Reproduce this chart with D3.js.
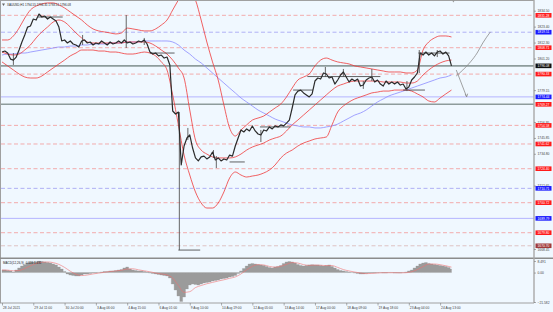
<!DOCTYPE html>
<html>
<head>
<meta charset="utf-8">
<script src="https://cdn.jsdelivr.net/npm/d3@7"></script>
<style>
  body { margin: 0; background: #f0f8ff; }
  svg { display: block; font-family: "Liberation Sans", Arial, sans-serif; }
</style>
</head>
<body>
<div id="chart"></div>
<script>
// ---- data (XAUUSD H1) ----
const closeStep = 3; // one close sample every 3 bars
const closes = [
  1805.7,1806.4,1805.0,1800.8,1800.1,1802.2,1807.1,1812.7,1817.6,1823.1,
  1823.8,1828.7,1828.0,1832.2,1830.1,1830.8,1828.7,1830.1,1828.7,1827.3,
  1823.1,1813.4,1814.1,1812.0,1813.4,1811.3,1810.6,1809.2,1813.4,1814.1,
  1812.0,1812.7,1810.6,1812.0,1811.3,1813.4,1812.0,1810.6,1812.7,1811.3,
  1812.0,1813.4,1812.0,1814.1,1812.0,1812.7,1811.3,1812.0,1813.4,1812.7,
  1814.1,1811.3,1805.7,1804.3,1805.0,1803.0,1803.6,1801.5,1802.2,1796.7,
  1764.6,1762.5,1763.9,1727.0,1740.2,1745.8,1747.9,1738.8,1731.9,1729.8,
  1732.6,1733.2,1731.2,1732.6,1736.0,1730.5,1731.9,1729.8,1731.2,1730.5,
  1733.9,1733.2,1740.2,1745.8,1751.4,1750.0,1752.1,1750.7,1754.2,1750.7,
  1748.6,1747.9,1751.4,1750.7,1753.5,1752.1,1754.2,1753.5,1754.9,1754.2,
  1756.2,1758.3,1766.7,1775.8,1778.5,1779.2,1777.2,1775.8,1774.4,1776.5,
  1785.5,1787.6,1786.9,1791.1,1790.4,1787.6,1788.3,1783.4,1786.2,1789.7,
  1791.8,1788.3,1784.8,1786.9,1785.5,1786.9,1782.0,1782.7,1786.2,1787.6,
  1788.3,1784.8,1786.2,1783.4,1782.0,1785.5,1783.4,1784.8,1783.4,1784.8,
  1782.7,1783.4,1779.9,1781.3,1786.2,1788.3,1791.1,1805.0,1803.6,1805.7,
  1803.6,1805.0,1803.0,1805.7,1806.4,1804.3,1805.7,1803.0,1796.0
];
// [bar, high, low] for the visible long shadows
const wicks = [
  [12,1805.0,1796.7],[85,1817.6,1810.6],[131,1831.5,1808.5],[150,1815.5,1810.6],
  [187,1763.9,1667.7],[196,1752.8,1744.4],[223,1737.4,1731.9],[226,1733.2,1724.9],
  [273,1751.4,1743.0],[341,1795.3,1788.3],[360,1793.9,1788.3],[381,1785.5,1780.0],
  [390,1793.9,1785.5],[427,1785.5,1778.5],[440,1807.1,1791.1],[459,1807.1,1802.2]
];
// short horizontal marks [fromBar, toBar, price]
const levelMarks = [
  [38,64,1830.1],[156,182,1805.0],[186,209,1667.7],[240,256,1729.1],[272,304,1753.5],
  [307,328,1779.2],[322,399,1788.6],[423,446,1779.2],[439,472,1805.0]
];

const bandStep = 6; // one sample every 6 bars
const bbUpper = [
  1814.1,1814.1,1816.9,1822.4,1829.4,1835.0,1837.8,1839.2,1839.9,1839.9,
  1838.5,1836.4,1833.6,1830.8,1828.0,1824.5,1821.8,1820.4,1819.7,1819.0,
  1818.3,1819.0,1822.4,1821.8,1821.1,1820.4,1820.4,1821.8,1824.5,1828.0,
  1835.0,1842.0,1848.9,1848.9,1842.0,1828.0,1812.7,1798.8,1786.2,1768.8,
  1752.8,1747.2,1751.4,1754.9,1758.3,1759.7,1761.1,1763.9,1766.7,1769.5,
  1774.4,1780.6,1786.2,1788.3,1790.4,1796.0,1800.1,1801.5,1800.1,1798.8,
  1798.1,1797.4,1796.0,1795.3,1794.6,1793.9,1793.2,1792.5,1791.8,1791.8,
  1791.8,1791.1,1791.1,1793.2,1807.1,1812.7,1815.5,1816.9,1816.9,1816.2
];
const bbMiddle = [
  1805.7,1804.3,1803.6,1804.3,1807.1,1810.6,1815.5,1819.7,1823.1,1826.6,
  1828.0,1826.6,1823.1,1819.0,1815.5,1812.7,1812.0,1812.0,1812.0,1812.0,
  1812.0,1812.0,1812.7,1812.7,1812.7,1812.7,1812.0,1809.9,1807.1,1804.3,
  1800.1,1794.6,1787.6,1765.3,1744.4,1737.4,1734.6,1732.6,1731.9,1731.9,
  1731.9,1732.6,1734.6,1737.4,1739.5,1740.9,1742.3,1744.4,1745.8,1747.2,
  1750.7,1754.9,1758.3,1761.8,1765.3,1768.8,1772.3,1775.8,1779.2,1782.0,
  1783.4,1784.8,1785.5,1785.5,1785.5,1785.5,1785.5,1784.8,1784.8,1784.8,
  1784.8,1784.1,1784.1,1785.5,1789.7,1793.2,1796.0,1798.1,1799.5,1800.1
];
const bbLower = [
  1798.8,1796.0,1793.2,1790.4,1788.3,1787.6,1787.6,1789.0,1791.8,1794.6,
  1797.4,1800.1,1803.0,1805.0,1807.1,1807.1,1807.1,1806.4,1806.4,1805.7,
  1805.7,1805.0,1804.3,1804.3,1805.0,1805.7,1805.0,1803.0,1798.8,1793.2,
  1775.8,1754.9,1733.9,1720.0,1708.2,1700.5,1697.0,1697.0,1700.5,1708.2,
  1717.9,1722.1,1720.0,1718.6,1719.3,1720.0,1721.4,1723.5,1727.0,1731.9,
  1735.3,1737.4,1740.2,1742.3,1743.7,1745.1,1745.8,1746.5,1754.9,1763.9,
  1768.1,1770.9,1773.0,1774.4,1775.8,1777.2,1777.8,1778.5,1778.5,1779.2,
  1779.2,1779.2,1778.5,1776.5,1774.4,1771.6,1770.9,1773.7,1776.5,1779.2
];
const maSlow = [
  1803.6,1804.3,1804.3,1805.0,1805.0,1805.7,1806.4,1807.1,1807.8,1808.5,
  1809.2,1809.2,1809.9,1809.9,1810.6,1810.6,1811.3,1811.3,1811.3,1812.0,
  1812.0,1812.0,1812.7,1812.7,1812.7,1813.4,1813.4,1813.4,1813.4,1813.4,
  1812.7,1810.6,1807.1,1804.3,1800.8,1798.1,1794.6,1791.1,1787.6,1784.1,
  1780.6,1777.2,1773.7,1770.9,1768.1,1765.3,1763.2,1761.1,1759.0,1757.6,
  1756.2,1754.9,1754.2,1753.5,1753.5,1752.8,1752.8,1753.5,1754.2,1755.5,
  1757.6,1759.7,1761.8,1763.2,1765.3,1768.1,1770.9,1773.0,1775.1,1776.5,
  1777.8,1779.2,1780.6,1782.0,1783.4,1784.8,1786.2,1787.6,1788.3,1789.7
];

// MACD(12,26,9): main as histogram (step 3 bars), signal line (step 6 bars)
const macdMain = [
  1.9,1.9,1.5,1.2,0.4,1.9,3.4,4.8,5.9,7.0,
  7.4,7.8,8.0,8.3,8.1,7.8,7.4,7.0,6.3,5.6,
  4.1,2.6,0.8,-1.0,-1.8,-2.1,-2.5,-2.5,-1.8,-1.0,
  -1.0,-0.7,-0.3,-0.3,0.1,0.4,0.8,0.8,1.2,1.2,
  1.5,1.9,2.3,3.4,4.1,2.6,1.9,1.5,1.2,1.2,
  0.8,0.4,-0.3,-0.7,-1.0,-1.4,-1.8,-2.1,-2.5,-4.0,
  -8.4,-12.8,-17.2,-21.2,-17.9,-12.0,-9.1,-8.4,-8.7,-9.1,
  -8.4,-7.6,-7.3,-6.9,-6.2,-5.8,-5.4,-4.7,-4.3,-4.0,
  -3.2,-2.9,-2.1,-0.7,1.2,3.0,4.8,6.3,6.7,6.3,
  5.9,5.6,5.2,4.5,3.7,3.4,4.1,4.5,5.2,6.7,
  7.8,8.1,7.8,7.0,5.9,5.2,4.8,5.2,5.6,5.8,
  5.6,5.6,5.2,4.8,5.2,5.6,4.5,3.4,2.3,1.5,
  1.2,0.8,0.4,0.1,-0.3,-0.7,-1.0,-1.0,-0.7,-0.3,
  -0.3,-0.3,-0.1,0.1,-0.3,-0.3,0.1,0.1,-0.3,-0.3,
  -0.3,0.1,0.4,1.2,1.9,3.4,4.8,6.3,7.0,7.4,
  6.7,6.3,5.9,5.6,5.2,4.8,4.5,3.7,2.6
];
const macdSignal = [
  1.9,1.8,1.3,1.5,3.0,5.0,6.6,7.6,7.8,7.3,
  6.0,3.8,1.0,-1.2,-2.2,-1.8,-1.0,-0.4,0.2,0.8,
  1.2,1.7,2.6,2.8,2.0,1.3,0.6,-0.3,-1.0,-1.7,
  -4.0,-9.5,-14.5,-14.0,-11.0,-9.5,-8.2,-7.2,-6.2,-5.3,
  -4.2,-3.2,-1.0,2.0,4.6,5.8,5.6,4.5,4.0,4.6,
  6.0,7.3,7.0,5.8,5.3,5.5,5.4,5.1,5.1,3.8,
  2.2,1.2,0.4,-0.3,-0.8,-0.6,-0.3,-0.1,-0.1,-0.1,
  -0.2,-0.1,0.6,2.2,4.4,6.2,6.3,5.8,5.0,4.0
];

// horizontal levels drawn across the chart
const levelPrices = [1831.28,1819.51,1808.71,1790.33,1774.44,1769.27,1754.58,1741.62,1724.40,1710.71,1700.72,1689.79,1679.80,1670.70];
const levelKinds  = ["red","blue","red","red","blueSolid","gray","red","red","red","blue","red","blueSolid","red","dark"];
const lastPrice = 1796.08;

// projection arrows at the right edge
const projUpBars = [479,486,494,501,507,515];
const projUpPrices = [1789.0,1793.2,1798.8,1805.0,1812.0,1819.7];
const projDownBars = [479,490];
const projDownPrices = [1793.2,1774.4];

// price scale labels that are not covered by a level tag
const priceTicks = [1834.50,1823.40,1812.30,1801.20,1779.15,1756.95,1745.85,1734.80,1712.65,1668.45];
const macdTicks = [8.491,0,-21.582];
const timeLabels = ["28 Jul 2021","29 Jul 11:00","30 Jul 20:00","3 Aug 06:00","4 Aug 15:00","6 Aug 01:00","9 Aug 10:00","10 Aug 19:00","12 Aug 05:00","13 Aug 14:00","17 Aug 00:00","18 Aug 09:00","19 Aug 18:00","23 Aug 04:00","24 Aug 13:00"];
const labelEvery = 33;

// ---- layout ----
const W = 553, H = 312;
const plotR = 534, mainTop = 1, mainBot = 257.5, macdTop = 259, macdBot = 303;

const kindStyle = {
  red:       {stroke: "#f3a3a3", dash: "4,2.5", width: 0.9, label: "#ff1a1a"},
  blue:      {stroke: "#a8a8f4", dash: "4,2.5", width: 0.9, label: "#1a1aff"},
  blueSolid: {stroke: "#b4b4ff", dash: null,    width: 1,   label: "#1a1aff"},
  gray:      {stroke: "#8e9c9c", dash: null,    width: 1.6, label: "#ff1a1a"},
  dark:      {stroke: "#dcbcbc", dash: "4,2.5", width: 0.9, label: "#a03a3a"}
};

const svg = d3.select("#chart").append("svg")
    .attr("width", W)
    .attr("height", H);

svg.append("rect").attr("width", W).attr("height", H).attr("fill", "#f0f8ff");

const x = d3.scaleLinear().domain([0, 561]).range([2, plotR]);
const y = d3.scaleLinear().domain([1668.45, 1834.5]).range([249, 10.7]);
const yM = d3.scaleLinear().domain([-21.582, 8.491]).range([302, 261]);

const defs = svg.append("defs");
defs.append("clipPath").attr("id", "clipMain")
  .append("rect").attr("x", 1).attr("y", mainTop).attr("width", plotR - 1).attr("height", mainBot - mainTop);
defs.append("clipPath").attr("id", "clipMacd")
  .append("rect").attr("x", 1).attr("y", macdTop).attr("width", plotR - 1).attr("height", macdBot - macdTop);

const main = svg.append("g").attr("clip-path", "url(#clipMain)");

// levels
levelPrices.forEach((p, i) => {
  const s = kindStyle[levelKinds[i]];
  main.append("line")
    .attr("x1", 1).attr("x2", plotR)
    .attr("y1", y(p)).attr("y2", y(p))
    .attr("stroke", s.stroke)
    .attr("stroke-width", s.width)
    .attr("stroke-dasharray", s.dash);
});
main.append("line")
  .attr("x1", 1).attr("x2", plotR)
  .attr("y1", y(lastPrice)).attr("y2", y(lastPrice))
  .attr("stroke", "#8e9c9c").attr("stroke-width", 1.6);

// slow moving average
const lineBand = d3.line().x((d, i) => x(i * bandStep)).y(d => y(d)).curve(d3.curveMonotoneX);
main.append("path").attr("d", lineBand(maSlow))
  .attr("fill", "none").attr("stroke", "#8c8cff").attr("stroke-width", 0.8);

// bollinger bands
[bbUpper, bbMiddle, bbLower].forEach(band => {
  main.append("path").attr("d", lineBand(band))
    .attr("fill", "none").attr("stroke", "#f03a3a").attr("stroke-width", 0.8);
});

// level marks
main.selectAll(".mark").data(levelMarks).join("line")
  .attr("x1", d => x(d[0])).attr("x2", d => x(d[1]))
  .attr("y1", d => y(d[2])).attr("y2", d => y(d[2]))
  .attr("stroke", "#3a3a3a").attr("stroke-width", 0.8);

// price
main.selectAll(".wick").data(wicks).join("line")
  .attr("x1", d => x(d[0])).attr("x2", d => x(d[0]))
  .attr("y1", d => y(d[1])).attr("y2", d => y(d[2]))
  .attr("stroke", "#555").attr("stroke-width", 0.9);
const priceLine = d3.line().x((d, i) => x(i * closeStep)).y(d => y(d));
main.append("path").attr("d", priceLine(closes))
  .attr("fill", "none").attr("stroke", "#2b2b2b").attr("stroke-width", 1.2)
  .attr("stroke-linejoin", "round");

// projections
const projLine = d3.line().x(d => x(d[0])).y(d => y(d[1])).curve(d3.curveMonotoneX);
main.append("path").attr("d", projLine(d3.zip(projUpBars, projUpPrices)))
  .attr("fill", "none").attr("stroke", "#8a8a8a").attr("stroke-width", 0.8);
main.append("path").attr("d", projLine(d3.zip(projDownBars, projDownPrices)))
  .attr("fill", "none").attr("stroke", "#8a8a8a").attr("stroke-width", 0.8);
const dEnd = [x(projDownBars[1]), y(projDownPrices[1])];
main.append("path")
  .attr("d", `M${dEnd[0]-1.5},${dEnd[1]-3}L${dEnd[0]},${dEnd[1]}L${dEnd[0]+1},${dEnd[1]-3.3}`)
  .attr("fill", "none").attr("stroke", "#8a8a8a").attr("stroke-width", 0.8);

// title
svg.append("path").attr("d", "M2,3.5L5,3.5L3.5,6Z").attr("fill", "#666");
svg.append("text").attr("x", 7).attr("y", 6)
  .attr("font-size", 3).attr("fill", "#222")
  .text("XAUUSD,H1  1794.55 1796.35 1793.51 1796.08");

// MACD panel (histogram drawn as a stepped filled area)
const macd = svg.append("g").attr("clip-path", "url(#clipMacd)");
const histArea = d3.area()
  .x((d, i) => x(i * closeStep))
  .y0(yM(0))
  .y1(d => yM(d))
  .curve(d3.curveStep);
macd.append("path").attr("d", histArea(macdMain))
  .attr("fill", "#9b9b9b").attr("stroke", "#9b9b9b").attr("stroke-width", 0.3);
const sigLine = d3.line().x((d, i) => x(i * bandStep)).y(d => yM(d)).curve(d3.curveMonotoneX);
macd.append("path").attr("d", sigLine(macdSignal))
  .attr("fill", "none").attr("stroke", "#f07070").attr("stroke-width", 0.6);
svg.append("text").attr("x", 3).attr("y", 263.5)
  .attr("font-size", 3).attr("fill", "#222")
  .text("MACD(12,26,9) -0.636 1.431");

// frames
svg.append("line").attr("x1", 0.5).attr("x2", 0.5).attr("y1", 0).attr("y2", macdBot)
  .attr("stroke", "#a0a0a0").attr("stroke-width", 1);
svg.append("line").attr("x1", 0).attr("x2", plotR).attr("y1", 0.5).attr("y2", 0.5)
  .attr("stroke", "#a0a0a0").attr("stroke-width", 1);
svg.append("line").attr("x1", 0).attr("x2", W).attr("y1", 258.2).attr("y2", 258.2)
  .attr("stroke", "#8c8c8c").attr("stroke-width", 1.6);
svg.append("line").attr("x1", 0).attr("x2", plotR).attr("y1", macdBot).attr("y2", macdBot)
  .attr("stroke", "#a0a0a0").attr("stroke-width", 1);
svg.append("line").attr("x1", plotR).attr("x2", plotR).attr("y1", 0).attr("y2", macdBot)
  .attr("stroke", "#a8a8a8").attr("stroke-width", 1.4);

// chart shift marker
svg.append("path").attr("d", `M${x(476)-1.5},0L${x(476)+1.5},0L${x(476)},2.5Z`).attr("fill", "#9a9a9a");

// price axis
svg.append("g")
  .attr("transform", `translate(${plotR},0)`)
  .call(d3.axisRight(y).tickValues(priceTicks).tickFormat(d3.format(".2f")).tickSize(2).tickPadding(1.5))
  .call(g => g.select(".domain").remove())
  .call(g => g.selectAll("line").attr("stroke", "#777").attr("stroke-width", 0.6))
  .call(g => g.selectAll("text").attr("font-size", 3.3).attr("fill", "#444").attr("font-family", "Liberation Sans, Arial, sans-serif"));

// coloured level labels
const tagW = 16, tagH = 4.6;
const tags = levelPrices.map((p, i) => ({p: p, c: kindStyle[levelKinds[i]].label}));
tags.push({p: lastPrice, c: "#111"});
const tagG = svg.append("g").selectAll("g").data(tags).join("g")
  .attr("transform", d => `translate(${plotR + 1.5},${y(d.p)})`);
tagG.append("rect").attr("x", 0).attr("y", -tagH / 2).attr("width", tagW).attr("height", tagH)
  .attr("fill", d => d.c);
tagG.append("text").attr("x", 2).attr("y", 1.2)
  .attr("font-size", 3.3).attr("fill", "#fff")
  .text(d => d3.format(".2f")(d.p));

// macd axis
svg.append("g")
  .attr("transform", `translate(${plotR},0)`)
  .call(d3.axisRight(yM).tickValues(macdTicks).tickFormat(d => d === 0 ? "0.00" : d3.format(".3f")(d)).tickSize(2).tickPadding(1.5))
  .call(g => g.select(".domain").remove())
  .call(g => g.selectAll("line").attr("stroke", "#777").attr("stroke-width", 0.6))
  .call(g => g.selectAll("text").attr("font-size", 3.3).attr("fill", "#444").attr("font-family", "Liberation Sans, Arial, sans-serif"));

// time axis
svg.append("g")
  .attr("transform", `translate(0,${macdBot})`)
  .call(d3.axisBottom(x).tickValues(timeLabels.map((t, i) => i * labelEvery)).tickFormat((d, i) => timeLabels[i]).tickSize(2.5).tickPadding(1.2))
  .call(g => g.select(".domain").remove())
  .call(g => g.selectAll("line").attr("stroke", "#777").attr("stroke-width", 0.6))
  .call(g => g.selectAll("text").attr("text-anchor", "start").attr("dx", 0.5)
    .attr("font-size", 3.3).attr("fill", "#444").attr("font-family", "Liberation Sans, Arial, sans-serif"));
</script>
</body>
</html>
